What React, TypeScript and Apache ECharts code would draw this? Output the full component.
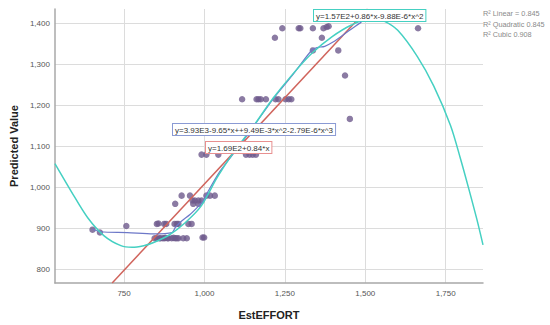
import React, { useEffect, useRef } from "react";
import * as echarts from "echarts";

// Observed data points [EstEFFORT, Predicted Value]
const pointsX: number[] = [
  652, 675, 757,
  845, 852, 860, 863, 870, 875, 878, 885, 888, 898, 904, 909, 914, 919, 934, 945, 994, 999,
  852, 857, 875, 881, 907, 914, 919, 950, 960,
  909, 963, 970, 981, 991, 965, 981,
  929, 955, 1006, 1017, 1032,
  991, 1006, 1043, 1129, 1140, 1150, 1160,
  1117, 1162, 1168, 1175, 1191, 1221, 1230, 1252, 1262, 1270,
  1219, 1242, 1293, 1298, 1337, 1370, 1380, 1386, 1365, 1337, 1416, 1437, 1452, 1664,
];
const pointsY: number[] = [
  897, 890, 906,
  876, 876, 876, 876, 876, 876, 877, 876, 876, 876, 877, 876, 876, 876, 876, 876, 878, 878,
  911, 912, 911, 911, 911, 911, 911, 911, 911,
  960, 968, 968, 968, 968, 960, 960,
  980, 980, 980, 980, 980,
  1080, 1080, 1080, 1080, 1080, 1080, 1080,
  1215, 1215, 1215, 1215, 1215, 1215, 1215, 1215, 1215, 1215,
  1365, 1388, 1388, 1388, 1388, 1388, 1391, 1393, 1365, 1334, 1334, 1273, 1167, 1388,
];

// Fit lines
const linearLine: number[][] = [[713, 767], [1507, 1435]];
const cubicLine: number[][] = [
  [535, 1058], [586, 990], [637, 926], [688, 882], [740, 858], [775, 854], [811, 858],
  [840, 865], [890, 884], [940, 914], [990, 955], [1040, 1025], [1090, 1085], [1150, 1147],
  [1211, 1215], [1273, 1275], [1334, 1327], [1396, 1367], [1457, 1396], [1520, 1413],
  [1560, 1405], [1601, 1383], [1662, 1319], [1713, 1247], [1765, 1151], [1796, 1070],
  [1821, 999], [1847, 922], [1866, 860],
];
const loessLine: number[][] = [
  [653, 898], [678, 892], [760, 890], [842, 887], [899, 890], [909, 902], [929, 918],
  [955, 934], [986, 958], [996, 967], [1011, 990], [1047, 1038], [1078, 1070], [1150, 1146],
  [1211, 1213], [1273, 1273], [1334, 1335], [1350, 1341], [1374, 1344], [1401, 1355],
  [1432, 1372], [1467, 1392], [1488, 1403],
];

const xTicks: number[] = [750, 1000, 1250, 1500, 1750];
const yTicks: number[] = [800, 900, 1000, 1100, 1200, 1300, 1400];

const equationCubic = "y=3.93E3-9.65*x++9.49E-3*x^2-2.79E-6*x^3";
const equationLinear = "y=1.69E2+0.84*x";
const equationQuadratic = "y=1.57E2+0.86*x-9.88E-6*x^2";
const legendLines: string[] = ["R² Linear = 0.845", "R² Quadratic 0.845", "R² Cubic 0.908"];

const FONT = '"Liberation Sans", Arial, sans-serif';

export default function App() {
  const ref = useRef<HTMLDivElement>(null);
  useEffect(() => {
    if (!ref.current) return;
    const chart = echarts.init(ref.current, undefined, { renderer: "svg" });
    const fmt = (v: number) => v.toLocaleString("en-US");
    const scatterData = pointsX.map((x, i) => [x, pointsY[i]]);
    const box = (text: string, x: number, y: number, border: string) => ({
      type: "text",
      x,
      y,
      z: 100,
      style: {
        text,
        font: `8px ${FONT}`,
        fill: "#333",
        backgroundColor: "#ffffff",
        borderColor: border,
        borderWidth: 1,
        padding: [2, 2, 1, 2],
        verticalAlign: "top",
      },
    });
    chart.setOption({
      animation: false,
      backgroundColor: "#ffffff",
      grid: { left: 50, right: 67, top: 9, bottom: 39, containLabel: false },
      xAxis: {
        type: "value",
        min: 535,
        max: 1866,
        name: "EstEFFORT",
        nameLocation: "middle",
        nameGap: 26,
        nameTextStyle: { fontFamily: FONT, fontSize: 11, fontWeight: "bold", color: "#222" },
        axisLine: { show: true, onZero: false, lineStyle: { color: "#a8a8a8", width: 1.5 } },
        axisTick: { show: false, customValues: xTicks },
        axisLabel: {
          customValues: xTicks,
          formatter: fmt,
          fontFamily: FONT,
          fontSize: 8,
          color: "#555",
          margin: 6,
        },
        splitLine: { show: true, lineStyle: { color: "#dcdcdc", width: 1 } },
      },
      yAxis: {
        type: "value",
        min: 767,
        max: 1435,
        name: "Predicted Value",
        nameLocation: "middle",
        nameGap: 31,
        nameTextStyle: { fontFamily: FONT, fontSize: 11, fontWeight: "bold", color: "#222" },
        axisLine: { show: true, onZero: false, lineStyle: { color: "#a8a8a8", width: 1.5 } },
        axisTick: { show: false, customValues: yTicks },
        axisLabel: {
          customValues: yTicks,
          formatter: fmt,
          fontFamily: FONT,
          fontSize: 8,
          color: "#555",
          margin: 5,
        },
        splitLine: { show: true, lineStyle: { color: "#dcdcdc", width: 1 } },
      },
      series: [
        {
          type: "scatter",
          data: scatterData,
          symbolSize: 6.5,
          itemStyle: { color: "#6e5a8c" },
          z: 2,
        },
        {
          type: "line",
          data: linearLine,
          showSymbol: false,
          clip: true,
          lineStyle: { color: "#d0645c", width: 1.5 },
          z: 3,
        },
        {
          type: "line",
          data: loessLine,
          showSymbol: false,
          smooth: 0.3,
          clip: true,
          lineStyle: { color: "#6d78c8", width: 1.2 },
          z: 3,
        },
        {
          type: "line",
          data: cubicLine,
          showSymbol: false,
          smooth: 0.3,
          clip: true,
          lineStyle: { color: "#45d0c2", width: 1.5 },
          z: 4,
        },
      ],
      graphic: [
        box(equationCubic, 173, 124, "#8a9ad4"),
        box(equationLinear, 206, 142, "#e89090"),
        box(equationQuadratic, 314, 10, "#45d0c2"),
        ...legendLines.map((t, i) => ({
          type: "text",
          x: 483,
          y: 10 + i * 10.5,
          style: { text: t, font: `7.3px ${FONT}`, fill: "#8a8a8a", verticalAlign: "top" },
        })),
      ],
    });
    return () => chart.dispose();
  }, []);
  return (
    <div
      ref={ref}
      style={{ position: "fixed", left: 0, top: 0, width: 550, height: 325 }}
    />
  );
}
